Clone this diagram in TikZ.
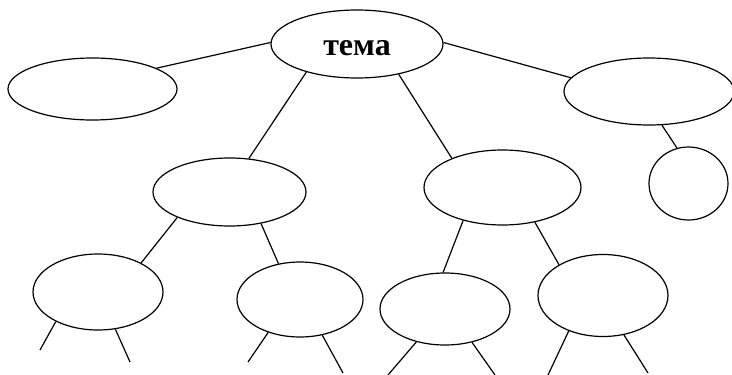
\documentclass[tikz,border=0pt]{standalone}
\usepackage{fontspec}
\setmainfont{Liberation Serif}
\usetikzlibrary{shapes.geometric}
\begin{document}
\begin{tikzpicture}[x=1pt, y=-1pt, line width=1.2pt,
		bubble/.style={draw, ellipse, inner sep=0pt}]
		\useasboundingbox (0,0) rectangle (732,375);
		
		\node[bubble, minimum width=172pt, minimum height=68pt, text height=22pt, text depth=0pt, font=\fontsize{32}{32}\selectfont\bfseries] (tema) at (357,44) {тема};
		\node[bubble, minimum width=169pt, minimum height=62pt] (x1) at (92.5,89) {};
		\node[bubble, minimum width=170pt, minimum height=67pt] (x4) at (649,91.5) {};
		\node[bubble, minimum width=79pt, minimum height=73pt] (x5) at (688.5,183.5) {};
		\draw (tema.179) -- (x1.18);
		\draw (tema.1) -- (x4.170);
		\draw (x4.291) -- (x5.108);
		
		\node[bubble, minimum width=153pt, minimum height=68pt] (x2) at (229.5,192) {};
		\node[bubble, minimum width=157pt, minimum height=75pt] (x3) at (502.5,187.5) {};
		\draw (tema.209) -- (x2.60);
		\draw (tema.324) -- (x3.150);
		
		\node[bubble, minimum width=130pt, minimum height=76pt] (x6) at (98,292) {};
		\node[bubble, minimum width=126pt, minimum height=75pt] (x7) at (300,299.5) {};
		\node[bubble, minimum width=130pt, minimum height=72pt] (x8) at (445,309) {};
		\node[bubble, minimum width=130pt, minimum height=82pt] (x9) at (603,295.5) {};
		\draw (x2.206) -- (x6.34);
		\draw (x2.315) -- (x7.121);
		\draw (x3.220) -- (x8.93);
		\draw (x3.313) -- (x9.145);
		
		% loose ends
		\coordinate (e1) at (40,350);
		\coordinate (e2) at (130,362);
		\coordinate (e3) at (248,362);
		\coordinate (e4) at (343,373);
		\coordinate (e5) at (388,375);
		\coordinate (e6) at (495,375);
		\coordinate (e7) at (548,375);
		\coordinate (e8) at (648,373);
		\draw (x6.215) -- (e1);
		\draw (x6.295) -- (e2);
		\draw (x7.226) -- (e3);
		\draw (x7.302) -- (e4);
		\draw (x8.229) -- (e5);
		\draw (x8.309) -- (e6);
		\draw (x9.226) -- (e7);
		\draw (x9.298) -- (e8);
		
		\end{tikzpicture}
\end{document}
